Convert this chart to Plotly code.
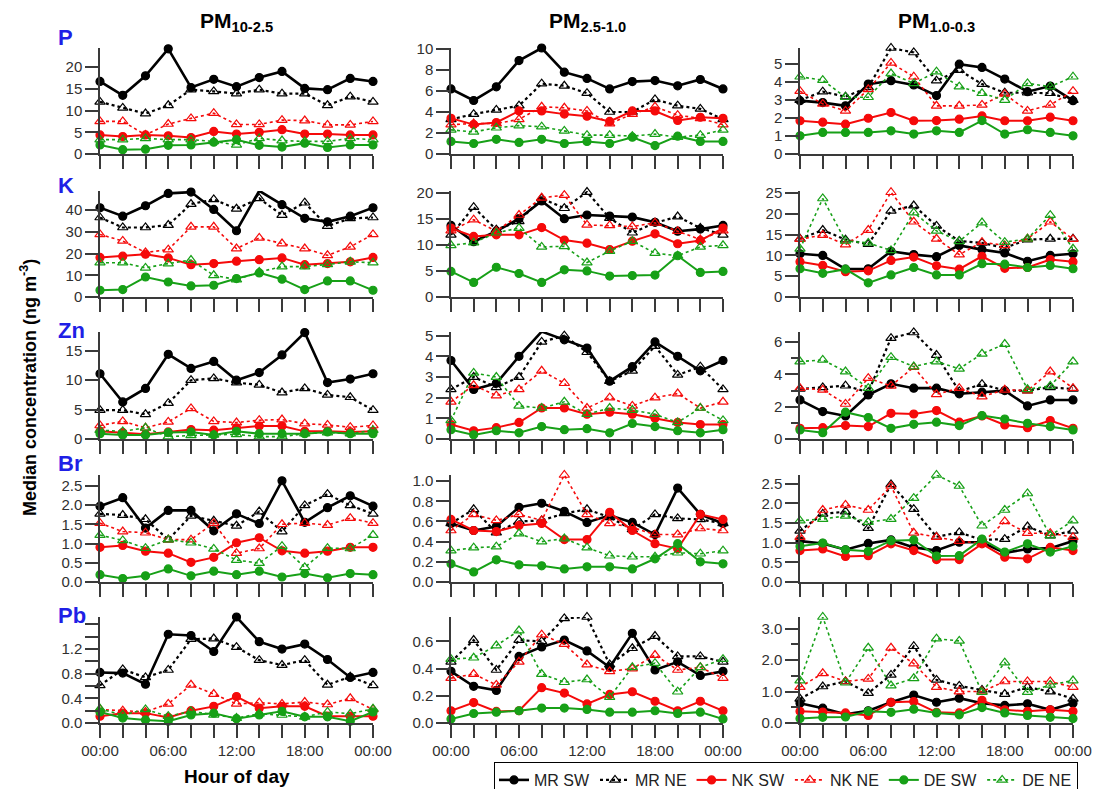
import plotly.graph_objects as go

# ---------------- data ----------------
hours = [0, 2, 4, 6, 8, 10, 12, 14, 16, 18, 20, 22, 24]
label_hours = [0, 6, 12, 18, 24]
hour_labels = ["00:00", "06:00", "12:00", "18:00", "00:00"]
series_names = ["MR SW", "MR NE", "NK SW", "NK NE", "DE SW", "DE NE"]
element_names = ["P", "K", "Zn", "Br", "Pb"]
fraction_titles = ["PM<sub>10-2.5</sub>", "PM<sub>2.5-1.0</sub>", "PM<sub>1.0-0.3</sub>"]

# PM10-2.5
P_c_MR_SW = [16.7, 13.5, 18.0, 24.2, 15.3, 17.2, 15.5, 17.6, 19.0, 15.1, 14.8, 17.4, 16.7]
P_c_MR_NE = [12.0, 10.6, 9.3, 11.2, 14.8, 14.4, 13.9, 14.8, 13.9, 13.9, 11.2, 13.2, 12.0]
P_c_NK_SW = [4.4, 4.0, 4.4, 4.2, 3.8, 5.2, 4.6, 5.0, 5.6, 4.6, 4.6, 4.4, 4.4]
P_c_NK_NE = [7.5, 7.5, 4.4, 6.9, 8.2, 9.4, 6.8, 6.8, 7.8, 7.7, 6.7, 6.7, 7.5]
P_c_DE_SW = [2.1, 1.0, 1.1, 2.0, 2.1, 2.7, 3.3, 2.0, 1.6, 2.5, 1.5, 2.1, 2.1]
P_c_DE_NE = [3.3, 3.3, 3.6, 3.3, 3.3, 2.9, 2.1, 3.6, 3.1, 2.9, 2.9, 3.6, 3.3]

K_c_MR_SW = [41.1, 37.2, 42.0, 47.7, 48.3, 40.3, 30.5, 48.9, 42.5, 36.2, 34.6, 37.2, 41.1]
K_c_MR_NE = [36.6, 32.0, 32.0, 33.1, 42.8, 44.9, 40.6, 45.4, 37.7, 43.4, 32.6, 36.2, 36.6]
K_c_NK_SW = [18.2, 18.8, 19.7, 18.0, 14.9, 15.4, 16.5, 17.2, 18.0, 14.9, 15.4, 16.2, 18.2]
K_c_NK_NE = [28.8, 25.8, 20.5, 21.8, 32.3, 32.3, 22.3, 27.2, 24.6, 22.3, 19.2, 23.1, 28.8]
K_c_DE_SW = [3.1, 3.4, 9.2, 6.9, 5.1, 5.4, 8.5, 11.1, 8.2, 3.4, 7.4, 7.4, 3.1]
K_c_DE_NE = [15.8, 15.8, 13.4, 15.4, 17.0, 10.0, 8.0, 11.5, 14.0, 14.0, 15.0, 16.2, 15.8]

Zn_c_MR_SW = [11.1, 6.3, 8.6, 14.4, 12.0, 13.2, 10.0, 11.3, 14.3, 18.1, 9.6, 10.2, 11.1]
Zn_c_MR_NE = [4.9, 4.9, 4.2, 6.1, 10.0, 10.3, 9.6, 9.2, 7.9, 8.6, 7.5, 7.1, 4.9]
Zn_c_NK_SW = [1.3, 1.1, 0.8, 1.2, 1.6, 1.5, 1.9, 2.2, 2.2, 1.3, 1.3, 1.2, 1.3]
Zn_c_NK_NE = [2.3, 3.0, 1.9, 2.9, 5.2, 3.0, 2.8, 3.2, 3.3, 2.6, 2.4, 2.0, 2.3]
Zn_c_DE_SW = [0.9, 0.7, 0.7, 1.1, 1.2, 0.7, 1.3, 0.9, 0.9, 0.9, 1.2, 0.9, 0.9]
Zn_c_DE_NE = [1.5, 1.3, 1.9, 0.4, 0.6, 0.7, 0.8, 0.4, 0.4, 0.9, 1.1, 0.9, 1.5]

Br_c_MR_SW = [1.97, 2.19, 1.40, 1.86, 1.86, 1.33, 1.77, 1.52, 2.63, 1.55, 1.93, 2.24, 1.97]
Br_c_MR_NE = [1.77, 1.74, 1.63, 1.10, 1.72, 1.59, 1.46, 1.83, 1.31, 1.99, 2.28, 1.99, 1.77]
Br_c_NK_SW = [0.90, 0.95, 0.80, 0.75, 0.51, 0.64, 1.02, 1.15, 0.81, 0.75, 0.80, 0.90, 0.90]
Br_c_NK_NE = [1.53, 1.31, 1.28, 1.10, 1.10, 1.53, 0.75, 0.87, 1.50, 1.53, 1.48, 1.66, 1.53]
Br_c_DE_SW = [0.19, 0.09, 0.16, 0.34, 0.16, 0.28, 0.19, 0.28, 0.13, 0.22, 0.11, 0.22, 0.19]
Br_c_DE_NE = [1.22, 1.08, 0.88, 1.10, 1.02, 0.86, 0.57, 0.49, 0.93, 0.38, 0.88, 0.87, 1.22]

Pb_c_MR_SW = [0.82, 0.81, 0.63, 1.44, 1.42, 1.16, 1.72, 1.32, 1.20, 1.28, 1.03, 0.74, 0.82]
Pb_c_MR_NE = [0.61, 0.87, 0.74, 0.86, 1.36, 1.37, 1.23, 1.02, 0.94, 1.02, 0.62, 0.75, 0.61]
Pb_c_NK_SW = [0.11, 0.16, 0.16, 0.09, 0.20, 0.27, 0.43, 0.24, 0.27, 0.27, 0.11, 0.11, 0.11]
Pb_c_NK_NE = [0.22, 0.20, 0.18, 0.31, 0.62, 0.47, 0.31, 0.33, 0.31, 0.34, 0.30, 0.40, 0.22]
Pb_c_DE_SW = [0.18, 0.08, 0.05, 0.03, 0.13, 0.16, 0.07, 0.13, 0.19, 0.10, 0.10, 0.03, 0.18]
Pb_c_DE_NE = [0.23, 0.13, 0.22, 0.11, 0.19, 0.13, 0.08, 0.15, 0.13, 0.10, 0.18, 0.15, 0.23]

# PM2.5-1.0
P_f_MR_SW = [6.2, 5.1, 6.4, 8.9, 10.1, 7.8, 7.2, 6.2, 6.9, 7.0, 6.5, 7.1, 6.2]
P_f_MR_NE = [3.3, 3.8, 4.2, 4.6, 6.7, 6.5, 5.8, 4.0, 4.0, 5.2, 4.6, 4.3, 3.3]
P_f_NK_SW = [3.4, 2.8, 3.0, 4.1, 4.1, 3.8, 3.6, 3.1, 4.1, 4.1, 3.2, 3.5, 3.4]
P_f_NK_NE = [2.8, 2.9, 2.9, 3.3, 4.5, 4.4, 4.1, 2.9, 3.8, 4.5, 3.7, 3.4, 2.8]
P_f_DE_SW = [1.2, 1.0, 1.4, 1.1, 1.4, 1.0, 1.2, 1.0, 1.6, 0.8, 1.7, 1.2, 1.2]
P_f_DE_NE = [2.3, 2.1, 2.5, 2.7, 2.6, 2.2, 1.8, 1.8, 1.7, 1.9, 1.6, 1.8, 2.3]

K_f_MR_SW = [13.7, 10.6, 12.6, 15.0, 18.4, 15.0, 15.7, 15.5, 15.3, 14.3, 12.6, 13.0, 13.7]
K_f_MR_NE = [11.9, 17.2, 12.9, 14.5, 18.9, 17.0, 20.1, 15.1, 12.3, 14.2, 15.4, 13.2, 11.9]
K_f_NK_SW = [13.2, 11.6, 11.9, 11.9, 13.3, 10.9, 10.3, 9.1, 10.7, 12.1, 10.2, 10.8, 13.2]
K_f_NK_NE = [12.7, 14.8, 12.6, 15.7, 19.0, 19.5, 13.8, 13.7, 13.5, 14.2, 12.6, 11.0, 12.7]
K_f_DE_SW = [4.9, 2.8, 5.7, 4.5, 2.8, 5.2, 5.0, 4.0, 4.1, 4.2, 7.9, 4.7, 4.9]
K_f_DE_NE = [9.9, 10.4, 12.3, 13.2, 9.6, 9.7, 6.6, 8.8, 10.7, 8.4, 7.9, 9.6, 9.9]

Zn_f_MR_SW = [3.8, 2.4, 2.7, 4.0, 5.2, 4.8, 4.4, 2.8, 3.5, 4.7, 4.0, 3.3, 3.8]
Zn_f_MR_NE = [2.4, 3.0, 2.5, 3.0, 4.7, 5.0, 4.2, 2.8, 3.3, 4.5, 3.1, 3.5, 2.4]
Zn_f_NK_SW = [0.7, 0.4, 0.55, 0.8, 1.5, 1.5, 1.2, 1.3, 1.2, 1.0, 0.8, 0.7, 0.7]
Zn_f_NK_NE = [1.8, 2.6, 2.1, 2.4, 3.3, 2.7, 1.5, 2.0, 1.6, 2.0, 2.2, 1.5, 1.8]
Zn_f_DE_SW = [0.45, 0.2, 0.4, 0.3, 0.6, 0.45, 0.5, 0.3, 0.75, 0.6, 0.4, 0.3, 0.45]
Zn_f_DE_NE = [0.9, 3.2, 3.0, 1.6, 1.5, 1.8, 1.2, 1.5, 1.4, 1.2, 0.8, 1.5, 0.9]

Br_f_MR_SW = [0.58, 0.51, 0.55, 0.74, 0.78, 0.70, 0.59, 0.66, 0.59, 0.47, 0.93, 0.67, 0.58]
Br_f_MR_NE = [0.58, 0.72, 0.49, 0.60, 0.61, 0.68, 0.72, 0.64, 0.52, 0.67, 0.63, 0.62, 0.58]
Br_f_NK_SW = [0.62, 0.51, 0.50, 0.56, 0.58, 0.42, 0.42, 0.69, 0.51, 0.38, 0.33, 0.67, 0.62]
Br_f_NK_NE = [0.51, 0.67, 0.61, 0.67, 0.61, 1.06, 0.67, 0.58, 0.54, 0.47, 0.47, 0.53, 0.51]
Br_f_DE_SW = [0.18, 0.10, 0.22, 0.17, 0.16, 0.13, 0.15, 0.15, 0.13, 0.23, 0.38, 0.20, 0.18]
Br_f_DE_NE = [0.31, 0.34, 0.35, 0.48, 0.40, 0.43, 0.34, 0.26, 0.25, 0.25, 0.29, 0.28, 0.31]

Pb_f_MR_SW = [0.38, 0.27, 0.24, 0.49, 0.56, 0.61, 0.53, 0.41, 0.66, 0.39, 0.45, 0.35, 0.38]
Pb_f_MR_NE = [0.45, 0.61, 0.39, 0.61, 0.60, 0.77, 0.78, 0.43, 0.55, 0.64, 0.49, 0.49, 0.45]
Pb_f_NK_SW = [0.09, 0.15, 0.085, 0.09, 0.26, 0.22, 0.14, 0.21, 0.23, 0.16, 0.09, 0.16, 0.09]
Pb_f_NK_NE = [0.33, 0.36, 0.28, 0.45, 0.65, 0.58, 0.43, 0.38, 0.40, 0.50, 0.39, 0.41, 0.33]
Pb_f_DE_SW = [0.03, 0.07, 0.08, 0.09, 0.11, 0.11, 0.10, 0.08, 0.08, 0.09, 0.07, 0.08, 0.03]
Pb_f_DE_NE = [0.47, 0.48, 0.57, 0.68, 0.36, 0.30, 0.32, 0.19, 0.41, 0.44, 0.23, 0.41, 0.47]

# PM1.0-0.3
P_u_MR_SW = [2.97, 2.86, 2.68, 3.89, 4.08, 3.84, 3.25, 5.0, 4.82, 4.17, 3.47, 3.78, 2.97]
P_u_MR_NE = [3.0, 3.47, 3.19, 3.71, 5.9, 5.65, 4.08, 4.67, 3.89, 3.41, 3.41, 3.38, 3.0]
P_u_NK_SW = [1.85, 1.77, 1.66, 1.99, 2.31, 1.85, 1.86, 1.94, 2.12, 1.85, 1.85, 2.05, 1.85]
P_u_NK_NE = [3.5, 2.79, 2.40, 3.6, 5.07, 4.30, 2.68, 2.68, 2.73, 3.34, 2.40, 2.73, 3.5]
P_u_DE_SW = [1.01, 1.2, 1.2, 1.2, 1.29, 1.11, 1.29, 1.2, 1.86, 1.11, 1.35, 1.2, 1.01]
P_u_DE_NE = [4.30, 4.11, 3.16, 3.16, 4.48, 3.93, 4.58, 3.75, 3.38, 3.0, 3.93, 3.75, 4.30]

K_u_MR_SW = [10.4, 10.0, 6.7, 6.8, 11.0, 10.2, 9.7, 12.4, 11.4, 10.6, 8.6, 10.0, 10.4]
K_u_MR_NE = [14.0, 16.1, 13.8, 12.7, 20.7, 22.0, 17.1, 13.5, 13.0, 11.8, 13.8, 14.0, 14.0]
K_u_NK_SW = [8.5, 7.6, 6.1, 6.3, 8.8, 9.6, 7.5, 6.7, 9.8, 6.9, 7.1, 9.0, 8.5]
K_u_NK_NE = [13.9, 14.9, 12.6, 16.1, 25.2, 18.1, 14.0, 10.2, 13.2, 12.4, 14.0, 18.1, 13.9]
K_u_DE_SW = [6.8, 5.7, 6.7, 3.4, 5.3, 7.1, 5.3, 5.3, 8.0, 7.9, 7.1, 7.6, 6.8]
K_u_DE_NE = [11.6, 23.7, 13.5, 13.0, 11.2, 20.3, 15.9, 13.4, 17.9, 13.2, 14.0, 19.7, 11.6]

Zn_u_MR_SW = [2.42, 1.70, 1.43, 2.73, 3.42, 3.15, 3.15, 2.80, 2.90, 3.00, 2.05, 2.42, 2.42]
Zn_u_MR_NE = [3.1, 3.2, 3.3, 2.9, 6.25, 6.6, 5.2, 2.95, 3.4, 3.0, 3.0, 3.2, 3.1]
Zn_u_NK_SW = [0.66, 0.70, 0.83, 0.77, 1.59, 1.55, 1.76, 1.04, 1.43, 0.87, 0.70, 1.14, 0.66]
Zn_u_NK_NE = [3.15, 3.05, 2.17, 3.77, 3.29, 4.45, 2.77, 3.15, 2.63, 3.05, 3.0, 4.18, 3.15]
Zn_u_DE_SW = [0.56, 0.39, 1.66, 1.33, 0.66, 0.91, 1.04, 0.83, 1.45, 1.24, 0.97, 0.77, 0.56]
Zn_u_DE_NE = [4.8, 4.9, 4.18, 3.15, 5.07, 4.49, 4.8, 4.35, 5.28, 5.88, 3.08, 3.29, 4.8]

Br_u_MR_SW = [1.04, 0.98, 0.82, 0.98, 1.07, 0.88, 0.80, 1.01, 1.01, 0.74, 0.84, 0.86, 1.04]
Br_u_MR_NE = [1.30, 1.73, 1.79, 1.37, 2.48, 1.85, 1.15, 1.26, 1.07, 1.09, 1.41, 1.18, 1.30]
Br_u_NK_SW = [0.80, 0.84, 0.65, 0.67, 0.97, 0.80, 0.57, 0.57, 0.97, 0.63, 0.59, 0.88, 0.80]
Br_u_NK_NE = [1.14, 1.83, 1.96, 1.83, 2.44, 1.25, 1.14, 1.04, 0.98, 1.54, 1.24, 1.24, 1.14]
Br_u_DE_SW = [0.91, 0.99, 0.82, 0.78, 1.05, 1.07, 0.66, 0.67, 1.09, 0.76, 0.97, 0.76, 0.91]
Br_u_DE_NE = [1.56, 1.60, 1.68, 1.52, 1.60, 2.13, 2.72, 2.44, 1.43, 1.83, 2.25, 1.18, 1.56]

Pb_u_MR_SW = [0.63, 0.47, 0.28, 0.39, 0.66, 0.89, 0.66, 0.79, 0.63, 0.56, 0.61, 0.42, 0.63]
Pb_u_MR_NE = [0.77, 1.16, 1.32, 0.95, 1.53, 2.44, 1.37, 1.18, 1.05, 0.92, 1.14, 1.0, 0.77]
Pb_u_NK_SW = [0.37, 0.35, 0.32, 0.24, 0.66, 0.68, 0.34, 0.32, 0.72, 0.42, 0.37, 0.42, 0.37]
Pb_u_NK_NE = [1.14, 1.58, 1.32, 1.40, 2.39, 1.89, 1.14, 1.0, 1.0, 1.32, 1.32, 1.32, 1.14]
Pb_u_DE_SW = [0.14, 0.18, 0.19, 0.37, 0.34, 0.44, 0.32, 0.26, 0.49, 0.32, 0.24, 0.18, 0.14]
Pb_u_DE_NE = [1.35, 3.37, 1.28, 2.39, 1.19, 1.42, 2.68, 2.61, 0.98, 1.92, 0.98, 1.21, 1.35]

# ---------------- assemble panels ----------------
g = globals()
frac_keys = ["c", "f", "u"]
ser_keys = ["MR_SW", "MR_NE", "NK_SW", "NK_NE", "DE_SW", "DE_NE"]

# y axis maxima (axis layout) per [row][col]
y_max = [[24.4, 10.1, 5.9],
         [48.8, 20.3, 25.5],
         [18.2, 5.18, 6.63],
         [2.78, 1.06, 2.72],
         [1.72, 0.78, 3.37]]
# tick settings per [row][col]: (dtick, format, minor dtick, minor ticklen)
y_ticks = [[(5, "", None, 0), (2, "", None, 0), (1, "", None, 0)],
           [(10, "", None, 0), (5, "", None, 0), (5, "", None, 0)],
           [(5, "", None, 0), (1, "", None, 0), (2, "", 1, 7)],
           [(0.5, ".1f", None, 0), (0.2, ".1f", None, 0), (0.5, ".1f", None, 0)],
           [("pb", ".1f", 0.2, 13), (0.2, ".1f", None, 0), (1, ".1f", 0.5, 7)]]

styles = {
    "MR SW": dict(color="black", dash="solid", symbol="circle", width=2.6, msize=8),
    "MR NE": dict(color="black", dash="dot", symbol="triangle-up-open", width=2.2, msize=9),
    "NK SW": dict(color="#f50a0a", dash="solid", symbol="circle", width=2.0, msize=8),
    "NK NE": dict(color="#f50a0a", dash="dot", symbol="triangle-up-open", width=1.6, msize=9),
    "DE SW": dict(color="#17a017", dash="solid", symbol="circle", width=2.0, msize=8),
    "DE NE": dict(color="#17a017", dash="dot", symbol="triangle-up-open", width=1.6, msize=9),
}

W = 1095
H = 806  # figure slightly taller than the window so the legend box is cut at the bottom
col_px = [(100, 373), (451, 723), (800, 1073)]
row_px = [(48, 154), (191, 297), (332, 439), (475, 582), (617, 723)]
axis_color = "#3a3a3a"
FONT = "Liberation Sans, Arial, sans-serif"
tick_font = dict(family=FONT, size=15, color="#303030")

fig = go.Figure()
layout = {}
for r, el in enumerate(element_names):
    for c, fk in enumerate(frac_keys):
        k = r * 3 + c + 1
        xa = "x" if k == 1 else f"x{k}"
        ya = "y" if k == 1 else f"y{k}"
        for name, sk in zip(series_names, ser_keys):
            vals = g[f"{el}_{fk}_{sk}"]
            st = styles[name]
            fig.add_trace(go.Scatter(
                x=hours, y=vals, xaxis=xa, yaxis=ya, name=name,
                mode="lines+markers", legendgroup=name, showlegend=(k == 1),
                line=dict(color=st["color"], dash=st["dash"], width=st["width"]),
                marker=dict(symbol=st["symbol"], size=st["msize"], color=st["color"],
                            line=dict(color=st["color"], width=1.2)),
                cliponaxis=False, hoverinfo="x+y+name"))
        x0, x1 = col_px[c]
        y0, y1 = row_px[r]
        xkey = "xaxis" if k == 1 else f"xaxis{k}"
        ykey = "yaxis" if k == 1 else f"yaxis{k}"
        layout[xkey] = dict(
            domain=[x0 / W, x1 / W], anchor=ya, range=[0, 24], automargin=False,
            tickmode="array", tickvals=label_hours, ticktext=hour_labels,
            showticklabels=(r == 4), ticks="outside", ticklen=13, tickwidth=1.5,
            tickcolor=axis_color, showline=True, linecolor=axis_color, linewidth=1.5,
            minor=dict(dtick=2, tick0=0, ticks="outside", ticklen=13, tickwidth=1.5,
                       tickcolor=axis_color),
            showgrid=False, zeroline=False, tickfont=tick_font, fixedrange=True)
        dt, fmt, minor, mlen = y_ticks[r][c]
        yd = dict(
            domain=[1 - y1 / H, 1 - y0 / H], anchor=xa, range=[0, y_max[r][c]],
            automargin=False,
            ticks="outside", ticklen=13, tickwidth=1.5, tickcolor=axis_color,
            showline=True, linecolor=axis_color, linewidth=1.5,
            showgrid=False, zeroline=False, tickfont=tick_font, fixedrange=True)
        if dt == "pb":
            yd.update(tickmode="array", tickvals=[0, 0.4, 0.8, 1.2],
                      ticktext=["0.0", "0.4", "0.8", "1.2"])
        else:
            yd.update(tickmode="linear", tick0=0, dtick=dt)
            if fmt:
                yd["tickformat"] = fmt
        if minor:
            yd["minor"] = dict(dtick=minor, tick0=0, ticks="outside", ticklen=mlen,
                               tickwidth=1.5, tickcolor=axis_color)
        layout[ykey] = yd

annotations = []
title_font = dict(family=FONT, size=21, color="black")
for c, t in enumerate(fraction_titles):
    cx = (col_px[c][0] + col_px[c][1]) / 2
    annotations.append(dict(text=f"<b>{t}</b>", x=cx / W, y=1 - 22 / H, xref="paper", yref="paper",
                            xanchor="center", yanchor="middle", showarrow=False, font=title_font))
label_base = [47, 195, 340, 473, 625]
for r, el in enumerate(element_names):
    annotations.append(dict(text=f"<b>{el}</b>", x=56 / W, y=1 - (label_base[r] + 5) / H,
                            xref="paper", yref="paper", xanchor="left", yanchor="bottom",
                            showarrow=False,
                            font=dict(family=FONT, size=22, color="#1f1fe6")))
annotations.append(dict(text="<b>Median concentration (ng m<sup>-3</sup>)</b>",
                        x=28 / W, y=1 - 388 / H, xref="paper", yref="paper",
                        xanchor="center", yanchor="middle", textangle=-90, showarrow=False,
                        font=dict(family=FONT, size=18, color="black")))
annotations.append(dict(text="<b>Hour of day</b>", x=237 / W, y=1 - 776 / H, xref="paper", yref="paper",
                        xanchor="center", yanchor="middle", showarrow=False,
                        font=dict(family=FONT, size=19, color="black")))

fig.update_layout(
    width=W, height=H, margin=dict(l=0, r=0, t=0, b=0, autoexpand=False),
    paper_bgcolor="white", plot_bgcolor="white",
    annotations=annotations,
    showlegend=True,
    legend=dict(orientation="h", x=494 / W, y=1 - 762 / H, xanchor="left", yanchor="top",
                bordercolor="black", borderwidth=1, bgcolor="white",
                font=dict(family=FONT, size=16, color="#222"),
                itemwidth=30, tracegroupgap=0),
    **layout)

fig.write_html("out.html",
               post_script="document.body.style.overflow='hidden';"
                           "document.documentElement.style.overflow='hidden';")
